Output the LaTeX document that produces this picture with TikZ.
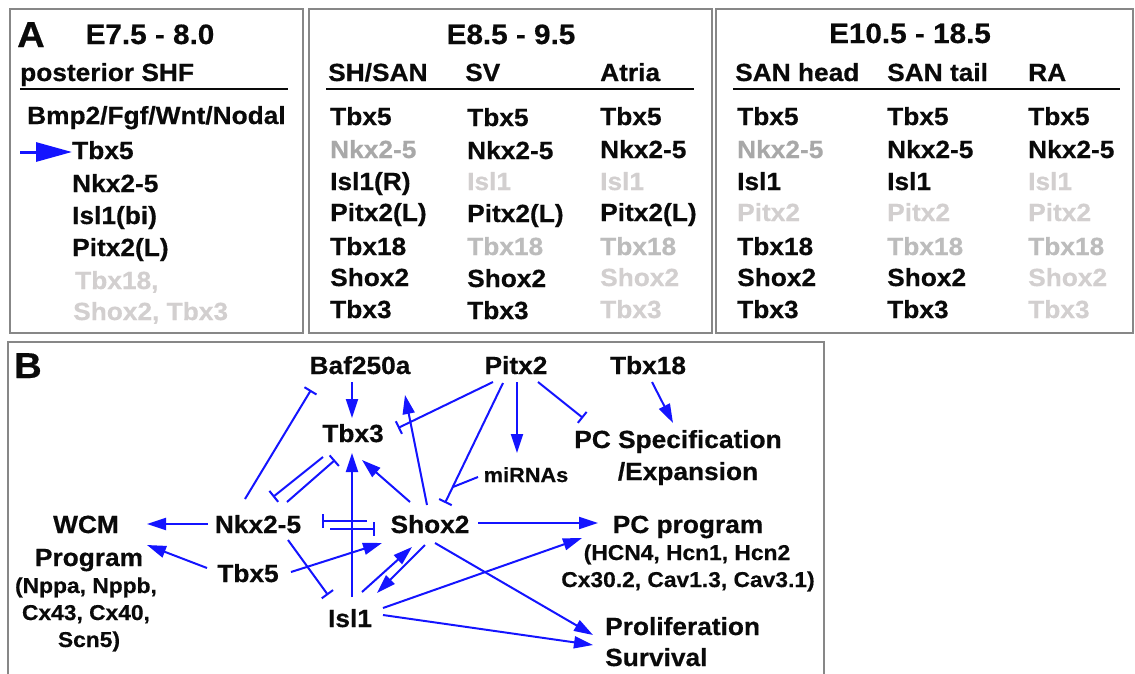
\documentclass[tikz,border=0pt]{standalone}
\usepackage{fontspec}
\newfontfamily\hb[FakeStretch=1.06,FakeBold=0.5]{Liberation Sans}
\usetikzlibrary{arrows.meta,calc}
\definecolor{bl}{RGB}{20,20,255}
\definecolor{gA}{RGB}{168,168,168}
\definecolor{gB}{RGB}{188,188,188}
\definecolor{gC}{RGB}{210,207,207}
\definecolor{frm}{RGB}{135,135,135}
\definecolor{ink}{RGB}{10,10,10}
\begin{document}
\begin{tikzpicture}[x=1pt,y=-1pt,
  txt/.style={inner sep=0pt, text=ink, font=\hb\bfseries\fontsize{24.8}{28}\selectfont},
  ent/.style={txt, anchor=base west},
  lab/.style={txt, anchor=base},
  sub/.style={inner sep=0pt, text=ink, anchor=base, font=\hb\bfseries\fontsize{21.5}{25}\selectfont},
  mir/.style={inner sep=0pt, text=ink, anchor=base, font=\hb\bfseries\fontsize{20.5}{24}\selectfont},
  ttl/.style={inner sep=0pt, text=ink, anchor=base, font=\hb\bfseries\fontsize{28}{32}\selectfont},
  big/.style={inner sep=0pt, text=ink, anchor=base west, font=\hb\bfseries\fontsize{36}{40}\selectfont},
  panel/.style={draw=frm, line width=1.5pt},
  rule/.style={draw=ink, line width=1.8pt},
  act/.style={draw=bl, line width=2pt, -{Triangle[length=19pt,width=12pt]}},
  inh/.style={draw=bl, line width=2pt, -{Bar[width=14pt]}},
  pl/.style={draw=bl, line width=2pt}
]
\useasboundingbox (0,0) rectangle (1135,673);
\fill[white] (0,0) rectangle (1135,673);

% ---------- panel frames ----------
\draw[panel] (10,9) rectangle (303,333);
\draw[panel] (309,9) rectangle (712,333);
\draw[panel] (716,9) rectangle (1133,333);
\draw[panel] (8,690) -- (8,342) -- (824,342) -- (824,690);

% ---------- panel A1 ----------
\node[big] (lA) at (17,47) {A};
\node[ttl] (t1) at (150,44) {E7.5 - 8.0};
\node[ent] (h1) at (20,81) {posterior SHF};
\draw[rule] (20,89) -- (288,89);
\node[ent] (a1r0) at (27,124) {Bmp2/Fgf/Wnt/Nodal};
\node[ent] (a1r1) at (72,159) {Tbx5};
\node[ent] (a1r2) at (72,192) {Nkx2-5};
\node[ent] (a1r3) at (72,224) {Isl1(bi)};
\node[ent] (a1r4) at (72,256) {Pitx2(L)};
\node[ent,text=gC] (a1r5) at (75,289) {Tbx18,};
\node[ent,text=gC] (a1r6) at (73,320) {Shox2, Tbx3};
\coordinate (a1s) at (20,152);
\draw[draw=bl, line width=3pt, -{Triangle[length=36pt,width=19pt]}] (a1s) -- (a1s -| a1r1.west);

% ---------- panel A2 ----------
\node[ttl] (t2) at (511,44) {E8.5 - 9.5};
\node[ent] (h21) at (328,81) {SH/SAN};
\node[ent] (h22) at (465,81) {SV};
\node[ent] (h23) at (600,81) {Atria};
\draw[rule] (326,89) -- (694,89);
% column 1
\node[ent] at (330,125) {Tbx5};
\node[ent,text=gA] at (330,158) {Nkx2-5};
\node[ent] at (330,190) {Isl1(R)};
\node[ent] at (330,221) {Pitx2(L)};
\node[ent] at (330,255) {Tbx18};
\node[ent] at (330,286) {Shox2};
\node[ent] at (330,318) {Tbx3};
% column 2
\node[ent] at (467,126) {Tbx5};
\node[ent] at (467,159) {Nkx2-5};
\node[ent,text=gC] at (467,190) {Isl1};
\node[ent] at (467,222) {Pitx2(L)};
\node[ent,text=gB] at (467,255) {Tbx18};
\node[ent] at (467,287) {Shox2};
\node[ent] at (467,319) {Tbx3};
% column 3
\node[ent] at (600,125) {Tbx5};
\node[ent] at (600,158) {Nkx2-5};
\node[ent,text=gC] at (600,190) {Isl1};
\node[ent] at (600,221) {Pitx2(L)};
\node[ent,text=gB] at (600,255) {Tbx18};
\node[ent,text=gC] at (600,286) {Shox2};
\node[ent,text=gC] at (600,318) {Tbx3};

% ---------- panel A3 ----------
\node[ttl] (t3) at (910,43) {E10.5 - 18.5};
\node[ent] (h31) at (735,81) {SAN head};
\node[ent] (h32) at (887,81) {SAN tail};
\node[ent] (h33) at (1028,81) {RA};
\draw[rule] (733,89) -- (1120,89);
% column 1
\node[ent] at (737,125) {Tbx5};
\node[ent,text=gA] at (737,158) {Nkx2-5};
\node[ent] at (737,190) {Isl1};
\node[ent,text=gC] at (737,221) {Pitx2};
\node[ent] at (737,255) {Tbx18};
\node[ent] at (737,286) {Shox2};
\node[ent] at (737,318) {Tbx3};
% column 2
\node[ent] at (887,125) {Tbx5};
\node[ent] at (887,158) {Nkx2-5};
\node[ent] at (887,190) {Isl1};
\node[ent,text=gC] at (887,221) {Pitx2};
\node[ent,text=gB] at (887,255) {Tbx18};
\node[ent] at (887,286) {Shox2};
\node[ent] at (887,318) {Tbx3};
% column 3
\node[ent] at (1028,125) {Tbx5};
\node[ent] at (1028,158) {Nkx2-5};
\node[ent,text=gC] at (1028,190) {Isl1};
\node[ent,text=gC] at (1028,221) {Pitx2};
\node[ent,text=gB] at (1028,255) {Tbx18};
\node[ent,text=gC] at (1028,286) {Shox2};
\node[ent,text=gC] at (1028,318) {Tbx3};

% ---------- panel B ----------
\node[big] (lB) at (14,378) {B};
\node[lab] (baf) at (360,374) {Baf250a};
\node[lab] (tbx3) at (353,442) {Tbx3};
\node[lab] (pitx2) at (516,374) {Pitx2};
\node[lab] (tbx18) at (648,374) {Tbx18};
\node[lab] (nkx) at (258,533) {Nkx2-5};
\node[lab] (wcm) at (86,533) {WCM};
\node[lab] (wcmprog) at (89,566) {Program};
\node[sub] (wcm1) at (86,593) {(Nppa, Nppb,};
\node[sub] (wcm2) at (86,620) {Cx43, Cx40,};
\node[sub] (wcm3) at (89,647) {Scn5)};
\node[lab] (tbx5) at (248,582) {Tbx5};
\node[lab] (isl1) at (350,627) {Isl1};
\node[lab] (shox2) at (430,533) {Shox2};
\node[mir] (mir) at (526,482) {miRNAs};
\node[lab] (pcspec) at (678,448) {PC Specification};
\node[lab] (pcexp) at (688,480) {/Expansion};
\node[lab] (pcprog) at (688,533) {PC program};
\node[sub] (pc1) at (687,560) {(HCN4, Hcn1, Hcn2};
\node[sub] (pc2) at (688,587) {Cx30.2, Cav1.3, Cav3.1)};
\node[ent] (prolif) at (605,635) {Proliferation};
\node[ent] (surv) at (605,666) {Survival};

% connectors
\draw[act] ($(baf.base)+(-8,8)$) -- ($(tbx3.base)+(-1,-24)$);
\draw[inh] ($(nkx.base)+(-13,-34)$) -- ($(baf.base)+(-49,16)$);
\draw[inh] ($(tbx3.base)+(-30,15)$) -- ($(nkx.base)+(15,-36)$);
\draw[inh] ($(nkx.base)+(29,-31)$) -- ($(tbx3.base)+(-18,18)$);
\draw[inh] ($(shox2.base)+(-63,-12)$) -- ($(nkx.base)+(64,-12)$);
\draw[inh] ($(nkx.base)+(72,-4)$) -- ($(shox2.base)+(-55,-4)$);
\draw[act] ($(nkx.base)+(-50,-9)$) -- ($(wcm.base)+(61,-9)$);
\draw[act] ($(tbx5.base)+(-41,-14)$) -- ($(wcmprog.base)+(58,-21)$);
\draw[act] ($(tbx5.base)+(43,-10)$) -- ($(shox2.base)+(-48,10)$);
\draw[inh] ($(nkx.base)+(30,7)$) -- ($(isl1.base)+(-22,-32)$);
\draw[act] ($(isl1.base)+(2,-30)$) -- ($(tbx3.base)+(-1,11)$);
\draw[act] ($(shox2.base)+(-20,-31)$) -- ($(tbx3.base)+(9,18)$);
\draw[act] ($(shox2.base)+(-3,-28)$) -- ($(baf.base)+(45,21)$);
\draw[inh] ($(pitx2.base)+(-23,8)$) -- ($(tbx3.base)+(45,-14)$);
\draw[inh] ($(pitx2.base)+(-13,9)$) -- ($(shox2.base)+(15,-30)$);
\draw[pl] ($(mir.base)+(-48,-5)$) -- ($(shox2.base)+(23,-46)$);
\draw[act] ($(pitx2.base)+(1,8)$) -- ($(mir.base)+(-9,-29)$);
\draw[inh] ($(pitx2.base)+(22,8)$) -- ($(pcspec.base)+(-95,-30)$);
\draw[act] ($(tbx18.base)+(4,8)$) -- ($(pcspec.base)+(-5,-25)$);
\draw[act] ($(shox2.base)+(48,-10)$) -- ($(pcprog.base)+(-90,-10)$);
\draw[act] ($(isl1.base)+(12,-35)$) -- ($(shox2.base)+(-18,14)$);
\draw[act] ($(shox2.base)+(-5,12)$) -- ($(isl1.base)+(27,-34)$);
\draw[act] ($(isl1.base)+(33,-19)$) -- ($(pcprog.base)+(-106,5)$);
\draw[act] ($(isl1.base)+(33,-12)$) -- ($(prolif.base west)+(-12,10)$);
\draw[act] ($(shox2.base)+(5,10)$) -- ($(prolif.base west)+(-12,0)$);
\end{tikzpicture}
\end{document}
